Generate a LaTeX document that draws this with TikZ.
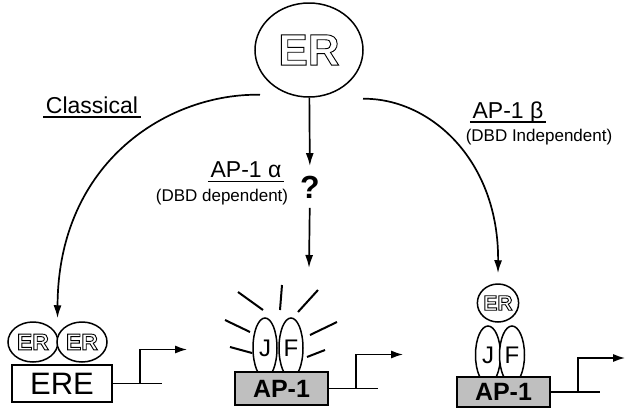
\documentclass[tikz,border=0pt]{standalone}
\usepackage{fontspec}
\setmainfont{Liberation Sans}
\usetikzlibrary{arrows.meta,shapes.geometric,calc}

\newcommand{\hollow}[1]{\special{pdf:literal direct 1 Tr 0.9 w}#1\special{pdf:literal direct 0 Tr}}

\begin{document}
\begin{tikzpicture}[x=1pt,y=-1pt,line width=1.6pt,
  bigarrow/.style={-{Latex[length=13pt,width=8pt]},line width=1.7pt},
  erball/.style={ellipse,draw,line width=1.5pt,fill=white,inner sep=0pt},
  prot/.style={ellipse,draw,line width=1.5pt,fill=white,inner sep=0pt,
    minimum width=25pt,minimum height=58pt,font=\fontsize{24}{24}\selectfont},
  sitebox/.style={draw,line width=2.2pt,inner sep=0pt,minimum width=93pt},
  lab/.style={font=\fontsize{23}{23}\selectfont,inner sep=2pt,text depth=0pt},
  sublab/.style={font=\fontsize{17}{17}\selectfont,inner sep=1pt},
  ulline/.style={line width=1.3pt}]
\useasboundingbox (0,0) rectangle (625,418);

% receptor at the top
\node[erball,minimum width=108pt,minimum height=94pt,font=\fontsize{44}{44}\selectfont\bfseries] (ER) at (309,50) {\hollow{ER}};

% pathway labels
\node[lab] (cl) at (92,105) {Classical};
\node[lab] (apal) at (246,170) {AP-1 α};
\node[sublab] (apad) at (222,197) {(DBD dependent)};
\node[lab] (apbl) at (508,110) {AP-1 β};
\node[sublab] (apbd) at (539,137) {(DBD Independent)};
\foreach \n in {cl,apal,apbl}
  \draw[ulline] ([yshift=-1pt]\n.south west) -- ([yshift=-1pt]\n.south east);

% classical: ER dimer on the ERE
\node[erball,minimum width=50pt,minimum height=40pt,font=\fontsize{23}{23}\selectfont\bfseries] (erl) at (33,342) {\hollow{ER}};
\node[erball,minimum width=50pt,minimum height=40pt,font=\fontsize{23}{23}\selectfont\bfseries] (err) at (82,342) {\hollow{ER}};
\node[sitebox,fill=white,minimum width=100pt,minimum height=37pt,font=\fontsize{31}{31}\selectfont] (ere) at (62,383.5) {ERE};
\coordinate (dimer) at ($(erl.north)!.5!(err.north)+(0,-3)$);

% AP-1 alpha: activated Jun/Fos
\foreach \a/\b/\c/\d in {238/292/263/310, 282/285/280/310, 318/290/298/312, 225/320/250/332, 337/322/310/335, 230/347/252/353, 325/350/307/357}
  \draw[line width=2pt] (\a,\b) -- (\c,\d);
\node[prot,minimum width=24pt,minimum height=60pt] (juna) at (265,348) {J};
\node[prot,minimum width=24pt,minimum height=60pt] (fosa) at (291,348) {F};
\node[sitebox,fill=black!25,minimum height=33pt,font=\fontsize{25}{25}\selectfont\bfseries] (apa) at (281.5,388.5) {AP-1};
\coordinate (glow) at (309,268);

% AP-1 beta: ER on Jun/Fos
\node[prot] (junb) at (488,355) {J};
\node[prot] (fosb) at (512,355) {F};
\node[erball,minimum size=38pt,font=\fontsize{21}{21}\selectfont\bfseries] (erb) at (498,303) {\hollow{ER}};
\node[sitebox,fill=black!25,minimum height=30pt,font=\fontsize{25}{25}\selectfont\bfseries] (apb) at (503.5,392) {AP-1};

% transcription start
\foreach \b in {ere,apa,apb} {
  \draw (\b.east) -- ++(49,0);
  \draw[-{Latex[length=12pt,width=8pt]}] ([xshift=27pt]\b.east) -- ++(0,-34) -- ++(47,0);
}

% pathways
\node[font=\fontsize{32}{32}\selectfont\bfseries,inner sep=9pt] (q) at (310,187) {?};
\draw[bigarrow] (ER) -- (q);
\draw[bigarrow] (q) -- (glow);
\draw[bigarrow] ([shift={(-49pt,3pt)}]ER.south) .. controls (170,93) and (58,160) .. (dimer);
\draw[bigarrow] ([shift={(54pt,-1pt)}]ER.south) .. controls (430,98) and (499,160) .. ([yshift=10pt]erb.north);
\end{tikzpicture}
\end{document}
